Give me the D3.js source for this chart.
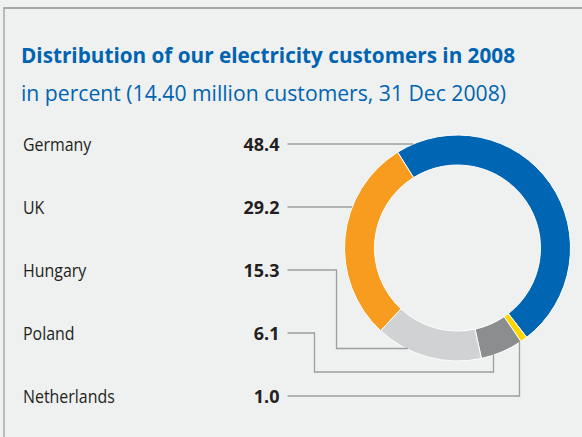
<!DOCTYPE html>
<html><head><meta charset="utf-8">
<script src="https://cdn.jsdelivr.net/npm/d3@7"></script>
<style>
html,body{margin:0;padding:0;background:#eff0f0;}
svg{display:block;}
</style></head>
<body>
<svg id="chart" width="582" height="437"></svg>
<script>
const countries = ["Germany", "UK", "Hungary", "Poland", "Netherlands"];
const shares = [48.4, 29.2, 15.3, 6.1, 1.0];
const valueLabels = ["48.4", "29.2", "15.3", "6.1", "1.0"];
// clockwise drawing order around the ring
const ringOrder = ["Germany", "Netherlands", "Poland", "Hungary", "UK"];
const colors = {Germany:"#0066b3", UK:"#f79c1e", Hungary:"#d1d2d4", Poland:"#8c8d8f", Netherlands:"#ffd500"};
const titleText = "Distribution of our electricity customers in 2008";
const subtitleText = "in percent (14.40 million customers, 31 Dec 2008)";

const svg = d3.select("#chart");
const W = 582, H = 437;
svg.append("rect").attr("width", W).attr("height", H).attr("fill", "#eff0f0");
// frame
svg.append("line").attr("x1", 3.5).attr("x2", W).attr("y1", 8).attr("y2", 8).attr("stroke", "#a7a8a8").attr("stroke-width", 2);
svg.append("line").attr("x1", 4).attr("x2", 4).attr("y1", 7).attr("y2", H).attr("stroke", "#a7a8a8").attr("stroke-width", 1.5);

const FONT = "'Open Sans', 'Noto Sans', sans-serif";
// set a fixed width by compressing glyphs (mimics the condensed original face)
function fitWidth(sel, target) {
  sel.attr("textLength", target).attr("lengthAdjust", "spacingAndGlyphs");
}
function condense(sel, factor) {
  sel.each(function() {
    const w = this.getComputedTextLength();
    d3.select(this).attr("textLength", w * factor).attr("lengthAdjust", "spacingAndGlyphs");
  });
}
const title = svg.append("text").attr("x", 21).attr("y", 62.5).attr("font-family", FONT)
  .attr("font-weight", 700).attr("font-size", 22).attr("fill", "#0064b1").text(titleText);
fitWidth(title, 494);
const sub = svg.append("text").attr("x", 21).attr("y", 100.5).attr("font-family", FONT)
  .attr("font-weight", 400).attr("font-size", 22).attr("fill", "#0064b1").text(subtitleText);
fitWidth(sub, 485);

// donut
const cx = 457.5, cy = 248, R = 113, r = 83;
const startDeg = -32;
const pie = d3.pie().sort(null).value(d => d.v)
  .startAngle(startDeg * Math.PI / 180).endAngle((startDeg + 360) * Math.PI / 180);
const data = ringOrder.map(n => ({name: n, v: shares[countries.indexOf(n)]}));
const arcs = pie(data);
const arc = d3.arc().innerRadius(r).outerRadius(R);
const g = svg.append("g").attr("transform", `translate(${cx},${cy})`);

// row scale for labels
const y = d3.scalePoint().domain(countries).range([150.5, 402.5]);

// leader lines
const lineColor = "#9d9e9e";
function circleXLeft(yy) { return cx - Math.sqrt(R * R - (yy - cy) * (yy - cy)); }
function circleYBottom(xx) { return cy + Math.sqrt(R * R - (xx - cx) * (xx - cx)); }
const x0 = 287.5;
const paths = {
  Germany: (ly) => [[x0, ly], [circleXLeft(ly), ly]],
  UK: (ly) => [[x0, ly], [circleXLeft(ly), ly]],
  Hungary: (ly) => { const by = 348.5; return [[x0, ly], [336.5, ly], [336.5, by], [circleXLeft(by) + 2, by]]; },
  Poland: (ly) => { const by = 372, ex = 493.5; return [[x0, ly], [314.5, ly], [314.5, by], [ex, by], [ex, circleYBottom(ex) - 2]]; },
  Netherlands: (ly) => { const ex = 519.5; return [[x0, ly], [ex, ly], [ex, circleYBottom(ex) - 2]]; }
};
const lineGen = d3.line();
countries.forEach(c => {
  const ly = y(c) - 6.5;
  svg.append("path").attr("d", lineGen(paths[c](ly))).attr("fill", "none")
    .attr("stroke", lineColor).attr("stroke-width", 1.3);
});

g.selectAll("path.slice").data(arcs).join("path").attr("class", "slice")
  .attr("d", arc).attr("fill", d => colors[d.data.name])
  .attr("stroke", "#ffffff").attr("stroke-width", 1);

// labels
const lab = svg.append("g");
const names = lab.selectAll("text.name").data(countries).join("text").attr("class", "name")
  .attr("x", 23).attr("y", d => y(d)).attr("font-family", FONT).attr("font-size", 18.5)
  .attr("fill", "#231f20").text(d => d);
condense(names, 0.86);
const vals = lab.selectAll("text.val").data(countries).join("text").attr("class", "val")
  .attr("x", 279.5).attr("y", d => y(d)).attr("text-anchor", "end").attr("font-family", FONT)
  .attr("font-weight", 700).attr("font-size", 18.5).attr("fill", "#231f20")
  .text((d, i) => valueLabels[i]);
condense(vals, 0.97);
</script>
</body></html>
